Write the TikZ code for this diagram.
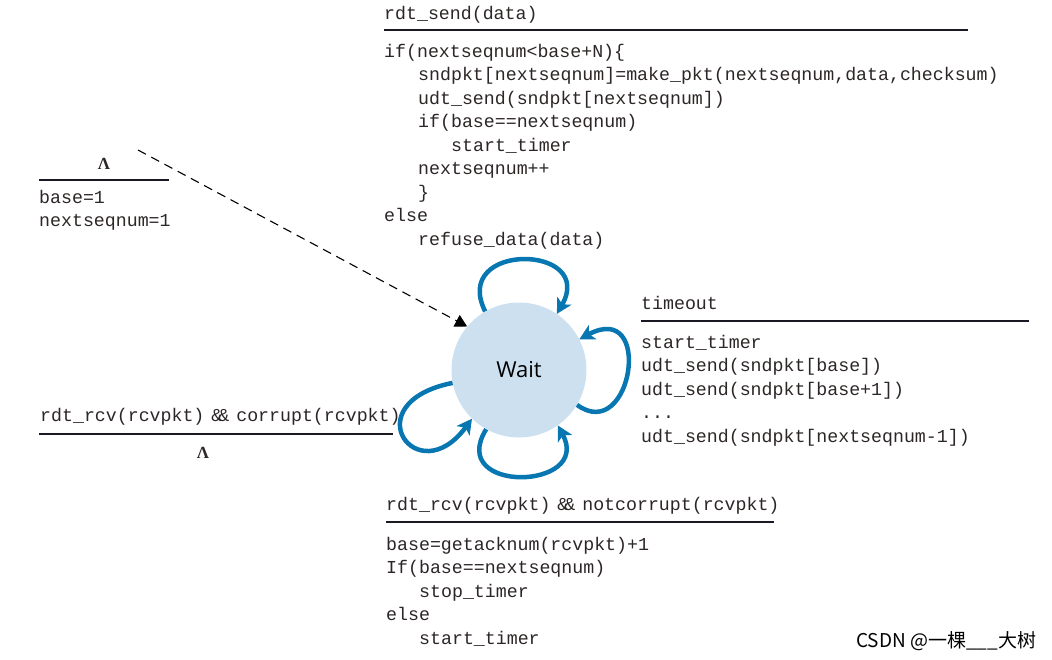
\documentclass[tikz,border=0pt]{standalone}
\usepackage{fontspec}
\setmonofont{Liberation Mono}
\setsansfont{Open Sans}
\newfontfamily\cjkfont{Noto Sans CJK SC}
\newfontfamily\greekserif{Liberation Serif}
\usetikzlibrary{arrows.meta}
\newcommand{\codefont}{\ttfamily\fontsize{18.25}{23.5}\selectfont}
\newcommand{\andand}{\hspace{7pt}\&\kern-4pt\&\hspace{7pt}}
\definecolor{txt}{RGB}{45,38,38}
\definecolor{rule}{RGB}{25,25,35}
\definecolor{loopblue}{RGB}{8,118,176}
\definecolor{statefill}{RGB}{205,224,240}
\tikzset{
  code/.style={inner sep=0pt, text=txt, align=left, font=\codefont},
  label/.style={inner sep=0pt, text=txt, font=\codefont},
  lam/.style={inner sep=0pt, text=txt, font=\greekserif\bfseries\fontsize{17}{20}\selectfont},
  bar/.style={draw=rule, line width=1.3pt},
  selfloop/.style={draw=loopblue, line width=4.5pt, -{Stealth[length=15pt,width=16pt,inset=4pt]}},
  initarrow/.style={draw=black, line width=1.1pt, dash pattern=on 9pt off 6pt, -{Triangle[length=12pt,width=13pt]}},
}
\begin{document}
\begin{tikzpicture}[x=1pt,y=-1pt]
\useasboundingbox (0,0) rectangle (1052,659);

% state
\node[circle, fill=statefill, minimum size=135pt, inner sep=0pt, font=\sffamily\fontsize{22}{26}\selectfont, text={RGB:red,35;green,31;blue,32}] (w) at (519,370) {Wait};

% initial transition
\coordinate (init) at (138,150);
\draw[initarrow] (init) -- (w.140);
\node[lam, anchor=base] (lam1) at (104,169) {Λ};
\draw[bar] (39,180) -- (169,180);
\node[code, anchor=north west] (initbody) at (39,186.5) {\strut base=1\\nextseqnum=1};

% rdt_send
\node[label, anchor=base west] (evsend) at (384,19) {rdt\_send(data)};
\draw[bar] (384,30) -- (968,30);
\node[code, anchor=north west] (sendbody) at (384,40.5) {\strut if(nextseqnum<base+N)\{\\
\hspace*{34pt}sndpkt[nextseqnum]=make\_pkt(nextseqnum,data,checksum)\\
\hspace*{34pt}udt\_send(sndpkt[nextseqnum])\\
\hspace*{34pt}if(base==nextseqnum)\\
\hspace*{67pt}start\_timer\\
\hspace*{34pt}nextseqnum++\\
\hspace*{34pt}\}\\
else\\
\hspace*{34pt}refuse\_data(data)};

% timeout
\node[label, anchor=base west] (evtimeout) at (641,309) {timeout};
\draw[bar] (641,321) -- (1029,321);
\node[code, anchor=north west] (timeoutbody) at (641,331.5) {\strut start\_timer\\
udt\_send(sndpkt[base])\\
udt\_send(sndpkt[base+1])\\
...\\
udt\_send(sndpkt[nextseqnum-1])};

% corrupt
\node[label, anchor=base west] (evcorrupt) at (40,421) {rdt\_rcv(rcvpkt)\andand corrupt(rcvpkt)};
\draw[bar] (39,434) -- (393,434);
\node[lam, anchor=base] (lam2) at (203,458) {Λ};

% notcorrupt
\node[label, anchor=base west] (evack) at (386,510) {rdt\_rcv(rcvpkt)\andand notcorrupt(rcvpkt)};
\draw[bar] (386,522) -- (774,522);
\node[code, anchor=north west] (ackbody) at (386,533.5) {\strut base=getacknum(rcvpkt)+1\\
If(base==nextseqnum)\\
\hspace*{33pt}stop\_timer\\
else\\
\hspace*{33pt}start\_timer};

% self loops
\draw[selfloop] (w.120) .. controls +(-35,-70) and +(40,-70) .. (w.56);
\draw[selfloop] (w.-31) .. controls +(55,40) and +(75,-40) .. (w.27);
\draw[selfloop] (w.-119) .. controls +(-40,65) and +(35,65) .. (w.-55);
\draw[selfloop] (w.-169) .. controls +(-100,20) and +(-55,75) .. (w.-134);

% watermark
\node[inner sep=0pt, anchor=base west, text={RGB:red,170;green,170;blue,170}, font=\cjkfont\fontsize{19}{22}\selectfont] (wm) at (856,647) {CSDN @一棵\_\_\_大树};
\end{tikzpicture}
\end{document}
